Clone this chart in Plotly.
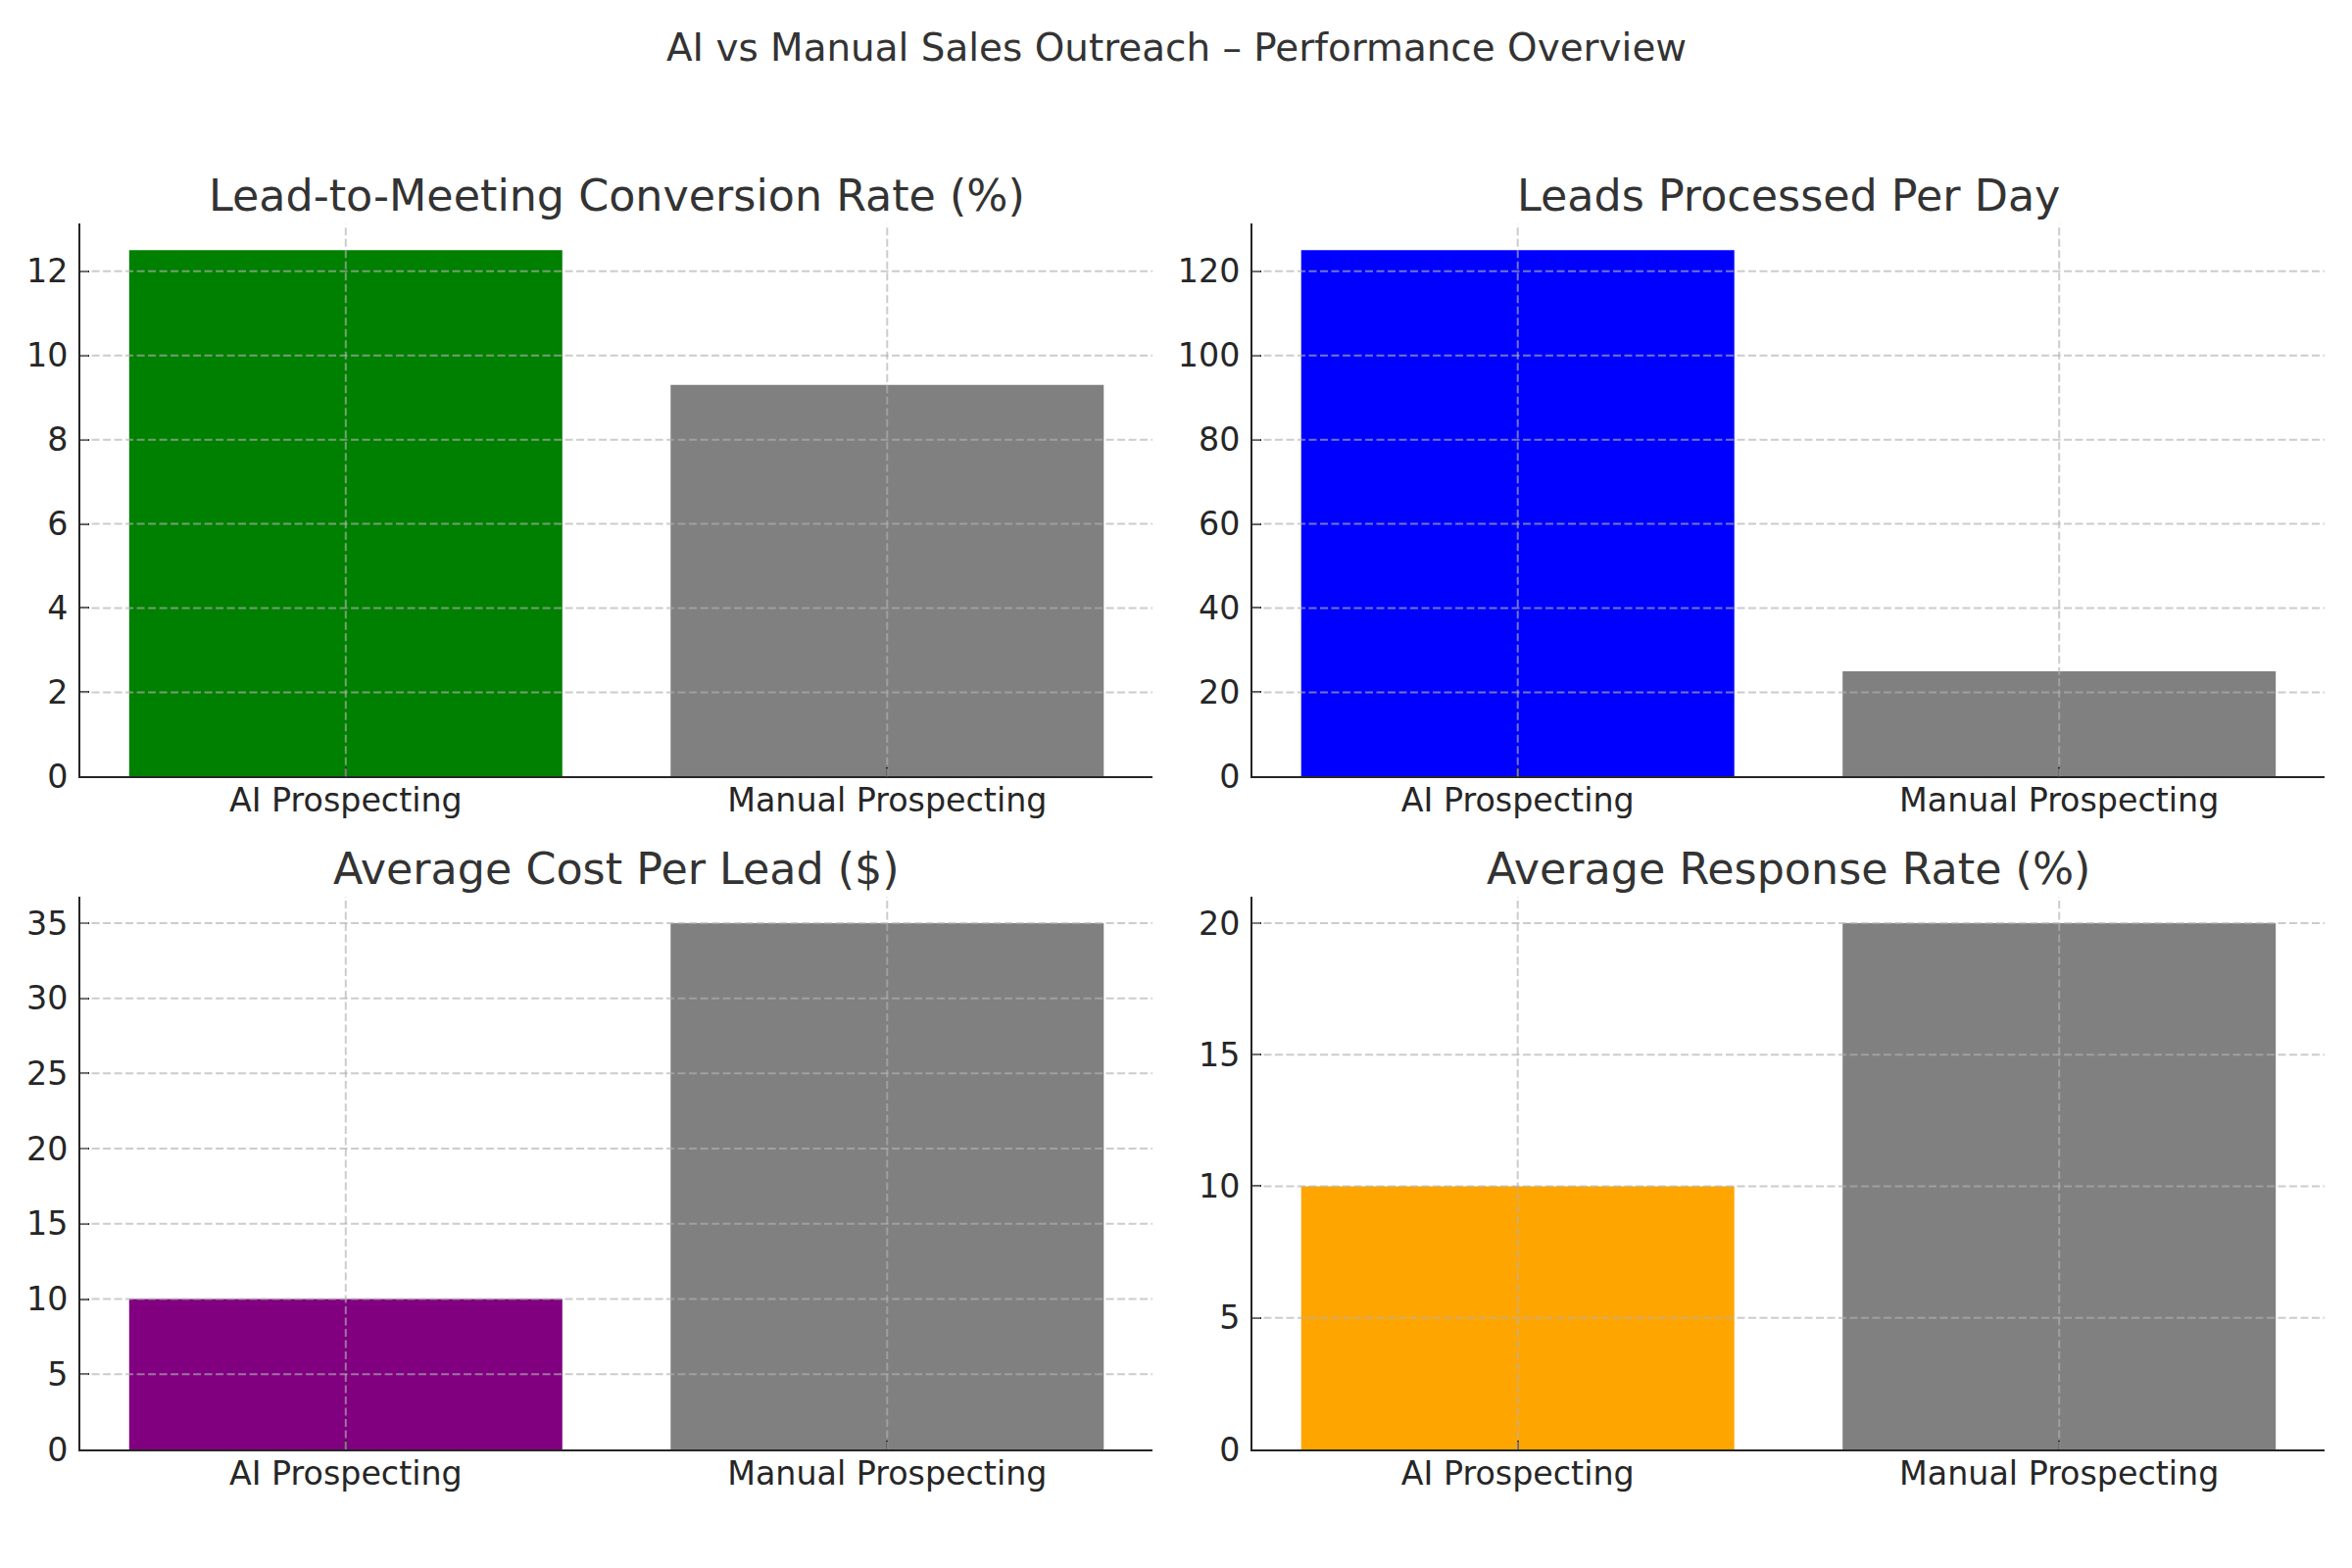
import plotly.graph_objects as go

# ---- data ----
categories = ["AI Prospecting", "Manual Prospecting"]
conversion_rate = [12.5, 9.3]
leads_per_day = [125, 25]
cost_per_lead = [10, 35]
response_rate = [10, 20]

panel_titles = [
    "Lead-to-Meeting Conversion Rate (%)",
    "Leads Processed Per Day",
    "Average Cost Per Lead ($)",
    "Average Response Rate (%)",
]
conversion_ticks = [0, 2, 4, 6, 8, 10, 12]
leads_ticks = [0, 20, 40, 60, 80, 100, 120]
cost_ticks = [0, 5, 10, 15, 20, 25, 30, 35]
response_ticks = [0, 5, 10, 15, 20]

ai_colors = ["#008000", "#0000ff", "#800080", "#ffa500"]
manual_color = "#808080"

main_title = "AI vs Manual Sales Outreach \u2013 Performance Overview"

# ---- layout / style ----
W, H = 2400, 1600
FONT = "DejaVu Sans"
TEXT_DARK = "#262626"
TITLE_COL = "#333333"
GRID_COL = "rgba(176,176,176,0.65)"

x_domains = [[0.0342, 0.4900], [0.5325, 0.9883]]
y_domains = [[0.5048, 0.8572], [0.0756, 0.4281]]

panels = [
    (conversion_rate, conversion_ticks),
    (leads_per_day, leads_ticks),
    (cost_per_lead, cost_ticks),
    (response_rate, response_ticks),
]

fig = go.Figure()
shapes = []
annotations = []
layout_axes = {}

for i, (vals, ticks) in enumerate(panels):
    n = i + 1
    xa = "x" if n == 1 else f"x{n}"
    ya = "y" if n == 1 else f"y{n}"
    row, col = divmod(i, 2)
    xd, yd = x_domains[col], y_domains[row]

    fig.add_trace(go.Bar(
        x=categories, y=vals, xaxis=xa, yaxis=ya,
        marker=dict(color=[ai_colors[i], manual_color], line=dict(width=0)),
        width=0.8, showlegend=False, hoverinfo="skip",
    ))

    common = dict(
        showline=True, linecolor=TEXT_DARK, linewidth=2,
        ticks="inside", ticklen=9, tickwidth=2, tickcolor=TEXT_DARK,
        showgrid=False, zeroline=False, automargin=False,
        tickfont=dict(family=FONT, size=33.3, color=TEXT_DARK),
        fixedrange=True,
    )
    layout_axes["xaxis" if n == 1 else f"xaxis{n}"] = dict(
        common, type="category", domain=xd, anchor=ya,
        range=[-0.49, len(categories) - 1 + 0.49],
        ticklabelstandoff=-6,
    )
    layout_axes["yaxis" if n == 1 else f"yaxis{n}"] = dict(
        common, domain=yd, anchor=xa,
        range=[0, max(vals) * 1.05],
        tickmode="array", tickvals=ticks, ticktext=[str(t) for t in ticks],
        ticklabelstandoff=4,
    )

    # dashed grid drawn above the bars (as in the reference)
    for t in ticks:
        if t <= 0:
            continue
        shapes.append(dict(
            type="line", layer="above", xref=f"{xa} domain", yref=ya,
            x0=0, x1=1, y0=t, y1=t,
            line=dict(color=GRID_COL, width=2, dash="8px,3.5px"),
        ))
    for c in categories:
        shapes.append(dict(
            type="line", layer="above", xref=xa, yref=f"{ya} domain",
            x0=c, x1=c, y0=0, y1=1,
            line=dict(color=GRID_COL, width=2, dash="8px,3.5px"),
        ))

    annotations.append(dict(
        text=panel_titles[i], xref="paper", yref="paper",
        x=(xd[0] + xd[1]) / 2, y=yd[1], xanchor="center", yanchor="bottom",
        yshift=1, showarrow=False,
        font=dict(family=FONT, size=44.4, color=TITLE_COL),
    ))

annotations.append(dict(
    text=main_title, xref="paper", yref="paper",
    x=0.5, y=1, xanchor="center", yanchor="top", yshift=-24,
    showarrow=False, font=dict(family=FONT, size=38.9, color=TITLE_COL),
))

fig.update_layout(
    width=W, height=H,
    margin=dict(l=0, r=0, t=0, b=0, autoexpand=False),
    paper_bgcolor="white", plot_bgcolor="white",
    font=dict(family=FONT, color=TEXT_DARK),
    shapes=shapes, annotations=annotations,
    bargap=0.2,
    **layout_axes,
)

fig.write_html(
    "out.html",
    config={"displayModeBar": False, "staticPlot": True},
    post_script="document.body.style.margin='0';document.body.style.padding='0';",
)
